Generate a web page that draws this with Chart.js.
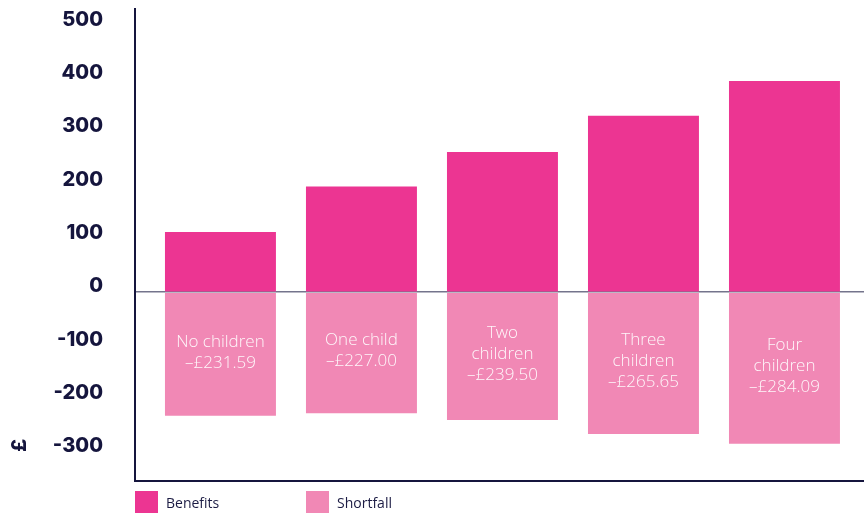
<!DOCTYPE html>
<html>
<head>
<meta charset="utf-8">
<script src="https://cdn.jsdelivr.net/npm/chart.js@4/dist/chart.umd.min.js"></script>
<style>
  html, body { margin: 0; padding: 0; background: #fff; }
  #wrap { position: relative; width: 864px; height: 520px; }
  .legend { position: absolute; top: 491px; height: 22px; display: flex; align-items: center;
            font: 14px "Open Sans", sans-serif; color: #1c1c44; }
  .legend span { display: inline-block; width: 23px; height: 22px; margin-right: 8px; }
</style>
</head>
<body>
<div id="wrap">
  <canvas id="chart" width="864" height="520"></canvas>
  <div class="legend" style="left:135px"><span style="background:#ec3592"></span>Benefits</div>
  <div class="legend" style="left:306px"><span style="background:#f188b5"></span>Shortfall</div>
</div>
<script>
const categories = ["No children", "One child", "Two children", "Three children", "Four children"];
const labelLines = [["No children"], ["One child"], ["Two", "children"], ["Three", "children"], ["Four", "children"]];
const benefits = [113, 198, 263, 331, 396];
const shortfall = [-231.59, -227.00, -239.50, -265.65, -284.09];
const shortfallText = ["–£231.59", "–£227.00", "–£239.50", "–£265.65", "–£284.09"];
const yTicks = [500, 400, 300, 200, 100, 0, -100, -200, -300];

const NAVY = "#15153d";

// category text and shortfall figure, centred in each shortfall bar
const barText = {
  id: "barText",
  afterDatasetsDraw(chart) {
    const ctx = chart.ctx;
    const meta = chart.getDatasetMeta(1);
    ctx.save();
    ctx.font = '300 17px "Open Sans", sans-serif';
    ctx.fillStyle = "rgba(255,255,255,0.93)";
    ctx.textAlign = "center";
    ctx.textBaseline = "middle";
    meta.data.forEach((el, i) => {
      const lines = labelLines[i].concat(shortfallText[i]);
      const lh = 21;
      const cy = (el.y + el.base) / 2 - 2;
      const y0 = cy - (lines.length - 1) * lh / 2;
      lines.forEach((t, k) => ctx.fillText(t, el.x, y0 + k * lh));
    });
    ctx.restore();
  }
};

const poundTitle = {
  id: "poundTitle",
  afterDraw(chart) {
    const ctx = chart.ctx;
    const y = chart.scales.y.getPixelForValue(-300) - 7;
    ctx.save();
    ctx.translate(20, y);
    ctx.rotate(-Math.PI / 2);
    ctx.font = '800 20px Inter, sans-serif';
    ctx.fillStyle = NAVY;
    ctx.textAlign = "center";
    ctx.textBaseline = "middle";
    ctx.fillText("£", 0, 0);
    ctx.restore();
  }
};

new Chart(document.getElementById("chart"), {
  type: "bar",
  data: {
    datasets: [
      {
        label: "Benefits",
        data: benefits.map((v, i) => ({ x: i, y: v })),
        backgroundColor: "#ec3592"
      },
      {
        label: "Shortfall",
        data: shortfall.map((v, i) => ({ x: i, y: v })),
        backgroundColor: "#f188b5"
      }
    ]
  },
  options: {
    responsive: false,
    animation: false,
    layout: { padding: { top: 9, bottom: 39, left: 0, right: 0 } },
    datasets: { bar: { categoryPercentage: 1, barPercentage: 0.787 } },
    plugins: { legend: { display: false }, tooltip: { enabled: false } },
    scales: {
      x: {
        type: "linear",
        offset: false,
        min: -0.606,
        max: 4.564,
        stacked: true,
        afterBuildTicks: (scale) => {
          scale.ticks = categories.map((c, i) => ({ value: i }));
        },
        ticks: { display: false },
        grid: { display: false, drawTicks: false },
        border: { display: true, color: NAVY, width: 2 }
      },
      y: {
        min: -354,
        max: 531,
        stacked: true,
        z: 1,
        afterBuildTicks: (scale) => {
          scale.ticks = yTicks.map((v) => ({ value: v }));
        },
        afterFit: (scale) => {
          scale.width = 135;
          scale.paddingTop = 0;
          scale.paddingBottom = 0;
        },
        ticks: {
          padding: 32,
          labelOffset: -6,
          color: NAVY,
          font: { family: "Inter", size: 20, weight: "800" }
        },
        grid: {
          drawTicks: false,
          lineWidth: 1.5,
          color: (ctx) => (ctx.tick && ctx.tick.value === 0 ? "rgba(30,30,70,0.62)" : "rgba(0,0,0,0)")
        },
        border: { display: true, color: NAVY, width: 2 }
      }
    }
  },
  plugins: [barText, poundTitle]
});
</script>
</body>
</html>
